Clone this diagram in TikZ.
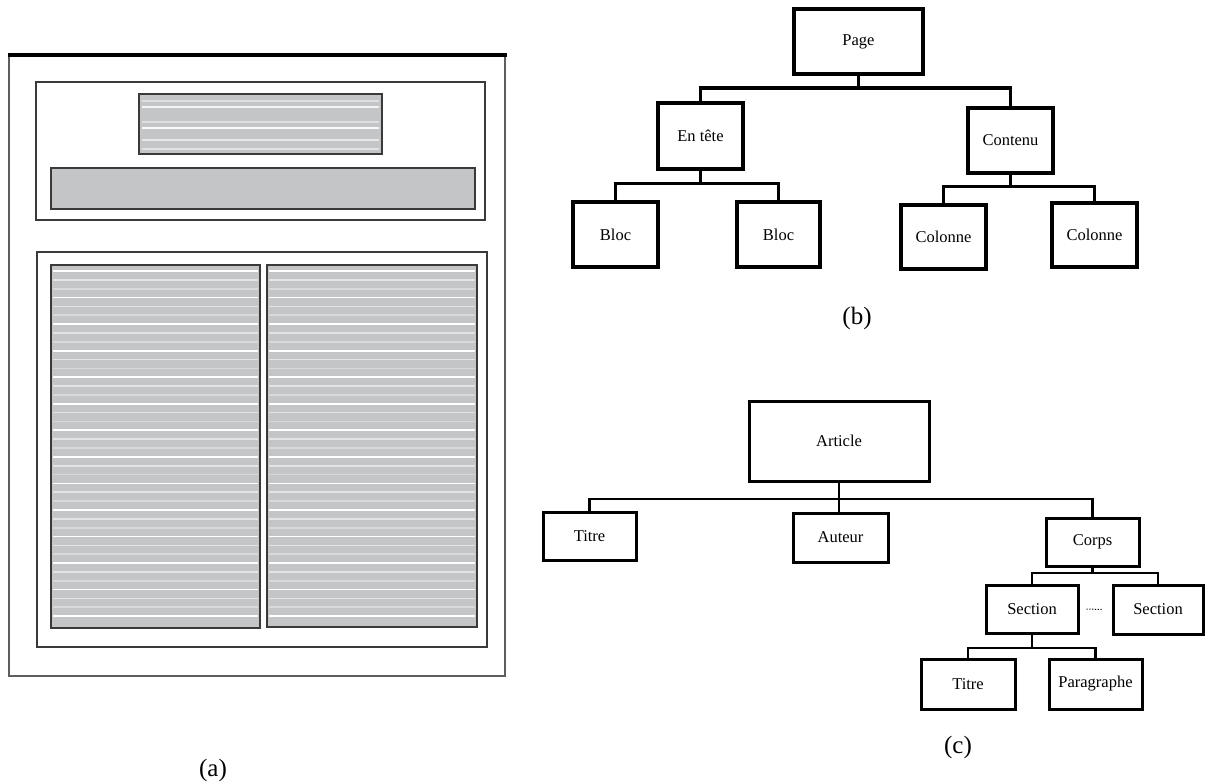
\documentclass[tikz,border=0pt]{standalone}
\usepackage{fontspec}
\setmainfont{Liberation Serif}
\definecolor{panel}{HTML}{C4C5C7}
\definecolor{rule}{HTML}{3A3A3A}
\definecolor{edge}{HTML}{5E5E5E}
\begin{document}
\begin{tikzpicture}[x=1pt,y=-1pt,
  frame/.style={draw=rule, line width=1.8pt},
  panelbox/.style={draw=rule, line width=1.8pt, fill=panel},
  stripe/.style={draw=white, line width=1.7pt},
  treeb/.style={draw, line width=3.3pt, inner sep=0pt, font=\fontsize{16.5}{18}\selectfont},
  treec/.style={draw, line width=3pt, inner sep=0pt, font=\fontsize{16.5}{18}\selectfont},
  linkb/.style={line width=3pt, line join=miter},
  linkc/.style={line width=2.2pt, line join=miter},
  caption/.style={font=\fontsize{25}{28}\selectfont, inner sep=0pt}
]
\useasboundingbox (0,0) rectangle (1205,784);

% ---------- (a) page layout ----------
\draw[draw=edge, line width=2pt] (9,55) rectangle (505,676);
\draw[line width=4pt] (7.5,55) -- (506.5,55);

% header area
\draw[frame] (36,82) rectangle (485,220);
\draw[panelbox] (139,94) rectangle (382,154);
\foreach \y/\o in {101/0.45,107/0.8,122/0.45,128/0.9,140/0.6,149/0.5}
  \draw[stripe, opacity=\o] (142,\y) -- (379,\y);
\draw[panelbox] (51,168) rectangle (475,209);

% content area with two columns of text lines
\draw[frame] (37,252) rectangle (487,647);
\draw[panelbox] (51,265) rectangle (260,628);
\draw[panelbox] (267,265) rectangle (477,627);
\foreach \k in {0,...,39}{
  \pgfmathsetmacro\yy{271+\k*8.85}
  \pgfmathsetmacro\op{mod(\k,3)==0 ? 1 : (mod(\k,3)==1 ? 0.55 : 0.35)}
  \draw[stripe, opacity=\op] (53,\yy) -- (258,\yy);
  \draw[stripe, opacity=\op] (269,\yy) -- (475,\yy);
}
\node[caption] (capa) at (213,770) {(a)};

% ---------- (b) page tree ----------
\node[treeb, minimum width=129, minimum height=65] (page)    at (858.5,41.5)  {Page};
\node[treeb, minimum width=85,  minimum height=66] (entete)  at (700.5,136)   {En tête};
\node[treeb, minimum width=85,  minimum height=65] (contenu) at (1010.5,140.5){Contenu};
\node[treeb, minimum width=85,  minimum height=65] (bloca)   at (615.5,234.5) {Bloc};
\node[treeb, minimum width=83,  minimum height=65] (blocb)   at (778.5,234.5) {Bloc};
\node[treeb, minimum width=85,  minimum height=64] (cola)    at (943.5,237)   {Colonne};
\node[treeb, minimum width=85,  minimum height=64] (colb)    at (1094.5,235)  {Colonne};

\draw[linkb] (page.south) -- (page.south |- 0,88);
\draw[linkb] (entete.north) -- (entete.north |- 0,88) -- (contenu.north |- 0,88) -- (contenu.north);
\draw[linkb] (entete.south) -- (entete.south |- 0,183);
\draw[linkb] (bloca.north) -- (bloca.north |- 0,183) -- (blocb.north |- 0,183) -- (blocb.north);
\draw[linkb] (contenu.south) -- (contenu.south |- 0,186);
\draw[linkb] (cola.north) -- (cola.north |- 0,186) -- (colb.north |- 0,186) -- (colb.north);
\node[caption] (capb) at (857,318) {(b)};

% ---------- (c) article tree ----------
\node[treec, minimum width=180, minimum height=80] (article) at (839,441)    {Article};
\node[treec, minimum width=93,  minimum height=48] (titre)   at (589.5,536)  {Titre};
\node[treec, minimum width=95,  minimum height=49] (auteur)  at (840.5,537.5){Auteur};
\node[treec, minimum width=93,  minimum height=48] (corps)   at (1092.5,542) {Corps};
\node[treec, minimum width=92,  minimum height=48] (seca)    at (1032,609)   {Section};
\node[treec, minimum width=90,  minimum height=49] (secb)    at (1158,609.5) {Section};
\node[treec, minimum width=94,  minimum height=50] (titreb)  at (968,684)    {Titre};
\node[treec, minimum width=93,  minimum height=50] (para)    at (1095.5,684) {Paragraphe};

\draw[linkc] (article.south) -- (article.south |- auteur.north);
\draw[linkc] (titre.north) -- (titre.north |- 0,499) -- (corps.north |- 0,499) -- (corps.north);
\draw[linkc] (corps.south) -- (corps.south |- 0,573);
\draw[linkc] (seca.north) -- (seca.north |- 0,573) -- (secb.north |- 0,573) -- (secb.north);
\draw[linkc] (seca.south) -- (seca.south |- 0,648);
\draw[linkc] (titreb.north) -- (titreb.north |- 0,648) -- (para.north |- 0,648) -- (para.north);
\draw[line width=1pt, dash pattern=on 1.2pt off 1.6pt] ([xshift=7pt]seca.east) -- ([xshift=-9pt]secb.west);
\node[caption] (capc) at (958,747) {(c)};
\end{tikzpicture}
\end{document}
